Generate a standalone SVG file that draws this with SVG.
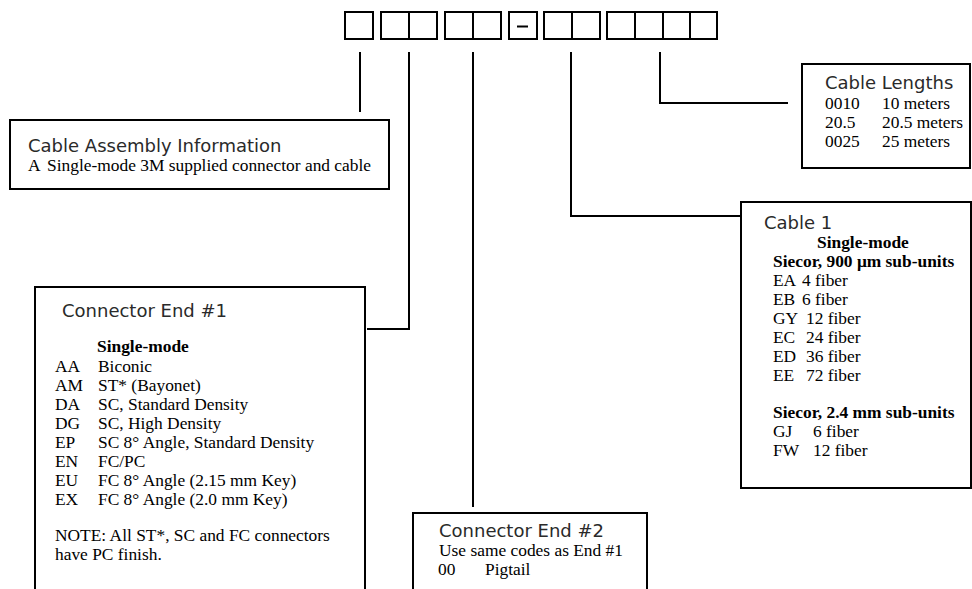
<svg xmlns="http://www.w3.org/2000/svg" width="972" height="589" viewBox="0 0 972 589">
<style>
.bx{fill:#fff;stroke:#000;stroke-width:2}
.cell{fill:#fff;stroke:#000;stroke-width:2}
.ln{fill:none;stroke:#000;stroke-width:2}
.t{font-family:"DejaVu Sans",sans-serif;font-size:18px;fill:#2a2a2a}
.s{font-family:"Liberation Serif","Times New Roman",serif;font-size:17.4px;fill:#000}
.b{font-weight:bold}
</style>
<rect width="972" height="589" fill="#fff"/>
<g id="code">
<rect class="cell" x="345" y="12" width="28" height="27"/>
<rect class="cell" x="381" y="12" width="28" height="27"/>
<rect class="cell" x="409" y="12" width="28" height="27"/>
<rect class="cell" x="445" y="12" width="28" height="27"/>
<rect class="cell" x="473" y="12" width="28" height="27"/>
<rect class="cell" x="509" y="12" width="28" height="27"/>
<line x1="517" y1="26.5" x2="528" y2="26.5" stroke="#000" stroke-width="2"/>
<rect class="cell" x="544" y="12" width="28" height="27"/>
<rect class="cell" x="572" y="12" width="28" height="27"/>
<rect class="cell" x="607" y="12" width="28" height="27"/>
<rect class="cell" x="635" y="12" width="28" height="27"/>
<rect class="cell" x="663" y="12" width="27" height="27"/>
<rect class="cell" x="690" y="12" width="27" height="27"/>
</g>
<g id="connectors">
<path class="ln" d="M360 52V112"/>
<path class="ln" d="M409 52V329H367"/>
<path class="ln" d="M473 52V507"/>
<path class="ln" d="M571 52V216H741"/>
<path class="ln" d="M660 52V103H788"/>
</g>
<g id="cable-assembly">
<rect class="bx" x="10" y="120" width="379" height="69"/>
<text class="t" x="28" y="152">Cable Assembly Information</text>
<text class="s" x="28" y="171">A</text>
<text class="s" x="47" y="171">Single-mode 3M supplied connector and cable</text>
</g>
<g id="connector-end-1">
<rect class="bx" x="35" y="287" width="330" height="310"/>
<text class="t" x="62" y="317">Connector End #1</text>
<text class="s b" x="97" y="352">Single-mode</text>
<text class="s" x="55" y="372">AA</text><text class="s" x="98" y="372">Biconic</text>
<text class="s" x="55" y="391">AM</text><text class="s" x="98" y="391">ST* (Bayonet)</text>
<text class="s" x="55" y="410">DA</text><text class="s" x="98" y="410">SC, Standard Density</text>
<text class="s" x="55" y="429">DG</text><text class="s" x="98" y="429">SC, High Density</text>
<text class="s" x="55" y="448">EP</text><text class="s" x="98" y="448">SC 8° Angle, Standard Density</text>
<text class="s" x="55" y="467">EN</text><text class="s" x="98" y="467">FC/PC</text>
<text class="s" x="55" y="486">EU</text><text class="s" x="98" y="486">FC 8° Angle (2.15 mm Key)</text>
<text class="s" x="55" y="505">EX</text><text class="s" x="98" y="505">FC 8° Angle (2.0 mm Key)</text>
<text class="s" x="55" y="541">NOTE: All ST*, SC and FC connectors</text>
<text class="s" x="55" y="560">have PC finish.</text>
</g>
<g id="connector-end-2">
<rect class="bx" x="413" y="513" width="234" height="84"/>
<text class="t" x="439" y="537">Connector End #2</text>
<text class="s" x="439" y="556">Use same codes as End #1</text>
<text class="s" x="438" y="575">00</text><text class="s" x="485" y="575">Pigtail</text>
</g>
<g id="cable-1">
<rect class="bx" x="741" y="202" width="230" height="286"/>
<text class="t" x="764" y="229">Cable 1</text>
<text class="s b" x="817" y="248">Single-mode</text>
<text class="s b" x="773" y="267">Siecor, 900 μm sub-units</text>
<text class="s" x="773" y="286">EA</text><text class="s" x="802" y="286">4 fiber</text>
<text class="s" x="773" y="305">EB</text><text class="s" x="802" y="305">6 fiber</text>
<text class="s" x="773" y="324">GY</text><text class="s" x="806" y="324">12 fiber</text>
<text class="s" x="773" y="343">EC</text><text class="s" x="806" y="343">24 fiber</text>
<text class="s" x="773" y="362">ED</text><text class="s" x="806" y="362">36 fiber</text>
<text class="s" x="773" y="381">EE</text><text class="s" x="806" y="381">72 fiber</text>
<text class="s b" x="773" y="418">Siecor, 2.4 mm sub-units</text>
<text class="s" x="773" y="437">GJ</text><text class="s" x="813" y="437">6 fiber</text>
<text class="s" x="773" y="456">FW</text><text class="s" x="813" y="456">12 fiber</text>
</g>
<g id="cable-lengths">
<rect class="bx" x="802" y="64" width="168" height="104"/>
<text class="t" x="825" y="89">Cable Lengths</text>
<text class="s" x="825" y="109">0010</text><text class="s" x="882" y="109">10 meters</text>
<text class="s" x="825" y="128">20.5</text><text class="s" x="882" y="128">20.5 meters</text>
<text class="s" x="825" y="147">0025</text><text class="s" x="882" y="147">25 meters</text>
</g>
</svg>
